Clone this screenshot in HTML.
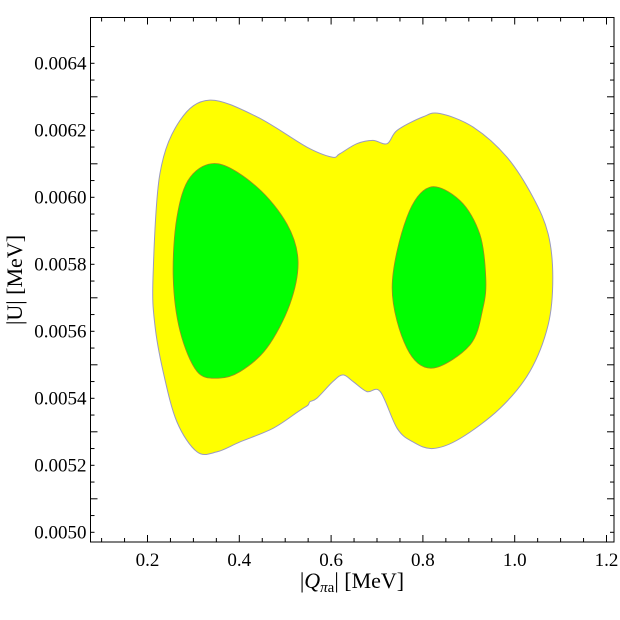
<!DOCTYPE html>
<html><head><meta charset="utf-8"><style>
body{margin:0;background:#fff}
svg{display:block;font-family:"Liberation Serif",serif}
</style></head><body>
<svg id="c" width="620" height="620"></svg>
<script>
const xTicks=[0.2,0.4,0.6,0.8,1.0,1.2];
const xTickLabels=["0.2","0.4","0.6","0.8","1.0","1.2"];
const yTicks=[0.0050,0.0052,0.0054,0.0056,0.0058,0.0060,0.0062,0.0064];
const yTickLabels=["0.0050","0.0052","0.0054","0.0056","0.0058","0.0060","0.0062","0.0064"];
const yellowX=[0.336,0.439,0.547,0.602,0.619,0.656,0.691,0.722,0.744,0.800,0.837,0.909,0.983,1.040,1.073,1.083,1.073,1.033,0.968,0.881,0.822,0.778,0.744,0.707,0.678,0.648,0.626,0.604,0.569,0.554,0.550,0.539,0.528,0.473,0.402,0.351,0.308,0.264,0.234,0.216,0.212,0.227,0.271];
const yellowY=[0.00629,0.00624,0.00615,0.00612,0.00613,0.00616,0.00617,0.00616,0.00620,0.00624,0.00625,0.00621,0.00612,0.00600,0.00589,0.00576,0.00562,0.00548,0.00537,0.00528,0.00525,0.00527,0.00531,0.00542,0.00542,0.00545,0.00547,0.00545,0.00540,0.00539,0.00538,0.00537,0.00536,0.00531,0.00527,0.00524,0.00524,0.00533,0.00548,0.00562,0.00576,0.00607,0.00623];
const greenLX=[0.354,0.439,0.504,0.528,0.510,0.460,0.402,0.354,0.308,0.271,0.256,0.264,0.293];
const greenLY=[0.00610,0.00603,0.00592,0.00581,0.00568,0.00555,0.00548,0.00546,0.00548,0.00560,0.00576,0.00594,0.00606];
const greenRX=[0.815,0.881,0.924,0.937,0.931,0.903,0.820,0.765,0.733,0.765];
const greenRY=[0.00603,0.00599,0.00589,0.00576,0.00567,0.00556,0.00549,0.00555,0.00573,0.00594];

const L=90.5,R=614,T=17.5,B=542;
const sx=v=>147.5+(v-0.2)*459;
const sy=v=>532.3-(v-0.005)*335000;
const NS="http://www.w3.org/2000/svg";
const svg=document.getElementById('c');
function mk(t,a){const e=document.createElementNS(NS,t);for(const k in a)e.setAttribute(k,a[k]);svg.appendChild(e);return e;}
function smooth(xs,ys){
  const p=xs.map((x,i)=>[sx(x),sy(ys[i])]);const n=p.length;let d=`M${p[0][0]},${p[0][1]}`;
  for(let i=0;i<n;i++){const p0=p[(i-1+n)%n],p1=p[i],p2=p[(i+1)%n],p3=p[(i+2)%n];
    const c1=[p1[0]+(p2[0]-p0[0])/6,p1[1]+(p2[1]-p0[1])/6],c2=[p2[0]-(p3[0]-p1[0])/6,p2[1]-(p3[1]-p1[1])/6];
    d+=`C${c1[0]},${c1[1]} ${c2[0]},${c2[1]} ${p2[0]},${p2[1]}`;}
  return d+'Z';
}
const y1=mk('path',{d:smooth(yellowX,yellowY),fill:'#ffff00',stroke:'#9a9ac0','stroke-width':1});


const g1=mk('path',{d:smooth(greenLX,greenLY),fill:'#00ff00',stroke:'#a08a20','stroke-width':0.8});


const g2=mk('path',{d:smooth(greenRX,greenRY),fill:'#00ff00',stroke:'#a08a20','stroke-width':0.8});


const fr=mk('rect',{x:L,y:T,width:R-L,height:B-T,fill:'none',stroke:'#000','stroke-width':1});


for(let v=0.1;v<=1.2001;v+=0.05){const x=sx(v);const maj=Math.abs(Math.round(v*10)/10-v)<1e-6&&Math.round(v*10)%2===0;const len=maj?7:4;
  mk('line',{x1:x,y1:B,x2:x,y2:B-len,stroke:'#000'});mk('line',{x1:x,y1:T,x2:x,y2:T+len,stroke:'#000'});}
xTicks.forEach((v,i)=>{const t=mk('text',{x:sx(v),y:B+24,'font-size':19,'text-anchor':'middle'});t.textContent=xTickLabels[i];
  
  });
for(let k=0;k<=30;k++){const v=0.00495+k*0.00005;const y=sy(v);if(y<T||y>B)continue;const maj=(k+1)%4===0;const len=maj?7:4;
  mk('line',{x1:L,y1:y,x2:L+len,y2:y,stroke:'#000'});mk('line',{x1:R,y1:y,x2:R-len,y2:y,stroke:'#000'});}
yTicks.forEach((v,i)=>{const t=mk('text',{x:L-4,y:sy(v)+6,'font-size':19,'text-anchor':'end'});t.textContent=yTickLabels[i];
  
  });
</script>
<svg style="position:absolute;left:0;top:0" width="620" height="620">
<text x="352" y="588" font-size="22" text-anchor="middle" font-family="Liberation Serif,serif">|<tspan font-style="italic">Q</tspan><tspan font-size="15" dy="4"><tspan font-style="italic">π</tspan>a</tspan><tspan dy="-4">| [MeV]</tspan></text>
<text transform="translate(22,280) rotate(-90)" font-size="22" text-anchor="middle" font-family="Liberation Serif,serif">|U| [MeV]</text>
</svg>
</body></html>
